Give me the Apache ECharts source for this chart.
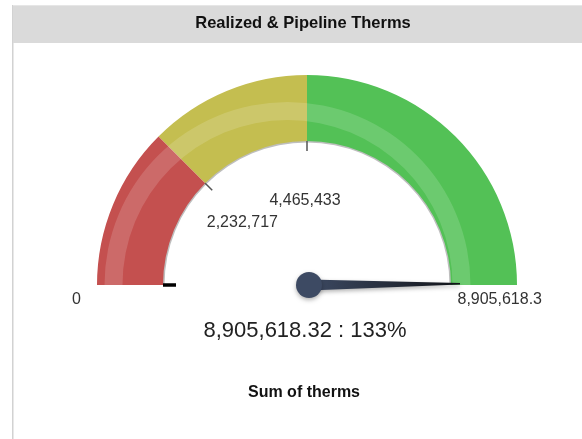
<!DOCTYPE html>
<html>
<head>
<meta charset="utf-8">
<script src="https://cdn.jsdelivr.net/npm/echarts@6/dist/echarts.min.js"></script>
<style>
html,body{margin:0;padding:0;background:#fff;}
#chart{width:582px;height:439px;}
</style>
</head>
<body>
<div id="chart"></div>
<script>
// ---- data ----
const chartTitle = 'Realized & Pipeline Therms';
const measureName = 'Sum of therms';
const scaleMax = 8930866;               // gauge scale maximum (4 x 2,232,716.5)
const tickValues = [0, 2232717, 4465433];
const tickLabels = ['0', '2,232,717', '4,465,433'];
const endLabel = '8,905,618.3';
const gaugeValue = 8905618.32;
const percentLabel = '133%';
const bandLimits = [2232717, 4465433, 8930866];
const bandColors = ['#C4504F', '#C4BE50', '#53C156'];

// ---- helpers ----
const FONT = 'Liberation Sans, Arial, Helvetica, sans-serif';
const CX = 307, CY = 285, R = 210, W = 66;
const angleOf = v => 180 - 180 * v / scaleMax;
const bandStops = bandLimits.map((v, i) => [v / scaleMax, bandColors[i]]);
const quarter = scaleMax / 4;

function hidden() {
  return {
    type: 'gauge', startAngle: 180, endAngle: 0, min: 0, max: scaleMax,
    splitNumber: 4,
    axisLine: { show: false, lineStyle: { width: W } },
    axisTick: { show: false },
    splitLine: { show: false, length: 0, distance: 0 },
    axisLabel: { show: false },
    pointer: { show: false },
    anchor: { show: false },
    title: { show: false },
    detail: { show: false },
    data: [],
    silent: true
  };
}

function labelSeries(center, radius, indices, texts) {
  const s = hidden();
  s.center = center;
  s.radius = radius;
  s.axisLabel = {
    show: true, distance: 0, fontSize: 16, color: '#333', fontFamily: FONT,
    formatter: v => {
      const idx = Math.round(v / quarter);
      const k = indices.indexOf(idx);
      return k >= 0 ? texts[k] : '';
    }
  };
  return s;
}

const series = [];

// inner edge shadow
{
  const s = hidden();
  s.center = [CX, CY]; s.radius = R - W + 1;
  s.axisLine = { show: true, lineStyle: { width: 2.5, color: [[1, 'rgba(70,70,70,0.35)']] } };
  series.push(s);
}
// colour bands
{
  const s = hidden();
  s.center = [CX, CY]; s.radius = R;
  s.axisLine = { show: true, lineStyle: { width: W, color: bandStops } };
  series.push(s);
}
// gloss stripe
{
  const s = hidden();
  s.center = [CX - 19.5, CY]; s.radius = 183;
  s.axisLine = { show: true, lineStyle: { width: 18, color: [[1, 'rgba(255,255,255,0.15)']] } };
  series.push(s);
}
// ticks at 0, 2,232,717, 4,465,433
{
  const s = hidden();
  s.center = [CX, CY]; s.radius = R;
  s.startAngle = angleOf(tickValues[0]);
  s.endAngle = angleOf(tickValues[2]);
  s.min = tickValues[0]; s.max = tickValues[2];
  s.splitNumber = tickValues.length - 1;
  s.axisLine = { show: true, lineStyle: { width: W, color: [[1, 'rgba(0,0,0,0)']] } };
  s.splitLine = { show: true, length: 10, distance: 0, lineStyle: { color: '#555', width: 1.5 } };
  series.push(s);
}
// bold zero tick
{
  const s = hidden();
  s.center = [CX, CY]; s.radius = R;
  s.startAngle = angleOf(tickValues[0]);
  s.endAngle = angleOf(tickValues[0]) - 0.01;
  s.splitNumber = 1;
  s.axisLine = { show: true, lineStyle: { width: W, color: [[1, 'rgba(0,0,0,0)']] } };
  s.splitLine = { show: true, length: 13, distance: 0, lineStyle: { color: '#000', width: 3 } };
  series.push(s);
}
// tick labels
series.push(labelSeries([CX, CY + 15], 235, [0, 4], [tickLabels[0], endLabel]));
series.push(labelSeries([CX - 38, CY], 88, [1], [tickLabels[1]]));
series.push(labelSeries([CX - 2, CY], 92, [2], [tickLabels[2]]));

// pointer + value
{
  const s = hidden();
  s.center = [CX + 2, CY]; s.radius = R;
  s.pointer = {
    show: true, length: 151, width: 11,
    icon: 'path://M4.3,0 L5.7,0 L10,100 L0,100 Z',
    keepAspect: false,
    itemStyle: {
      color: { type: 'linear', x: 0, y: 0, x2: 0, y2: 1,
        colorStops: [{ offset: 0, color: '#111318' }, { offset: 1, color: '#3D4A63' }] },
      shadowBlur: 4, shadowColor: 'rgba(0,0,0,0.3)', shadowOffsetY: 2
    }
  };
  s.anchor = { show: true, showAbove: true, size: 26,
    itemStyle: { color: '#3D4A63', shadowBlur: 4, shadowColor: 'rgba(0,0,0,0.3)', shadowOffsetY: 2 } };
  s.detail = {
    show: true, offsetCenter: [-4, 46], fontSize: 22, color: '#222', fontFamily: FONT,
    fontWeight: 'normal', valueAnimation: false,
    formatter: v => v.toLocaleString('en-US', { minimumFractionDigits: 2, maximumFractionDigits: 2 }) + ' : ' + percentLabel
  };
  s.data = [{ value: gaugeValue }];
  series.push(s);
}

const chart = echarts.init(document.getElementById('chart'), null, { renderer: 'canvas' });
chart.setOption({
  animation: false,
  backgroundColor: '#fff',
  graphic: [
    { type: 'rect', shape: { x: 12, y: 5, width: 1.5, height: 434 }, style: { fill: '#d2d2d2' }, z: -10 },
    { type: 'rect', shape: { x: 13, y: 5, width: 569, height: 38 }, style: { fill: '#dadada' }, z: -10 },
    { type: 'rect', shape: { x: 13, y: 5, width: 569, height: 1 }, style: { fill: '#e6e6e6' }, z: -9 }
  ],
  title: [
    { text: chartTitle, left: 303, top: 15, textAlign: 'center', padding: 0,
      textStyle: { fontSize: 16.5, fontWeight: 'bold', color: '#111', fontFamily: FONT } },
    { text: measureName, left: 304, top: 385, textAlign: 'center', padding: 0,
      textStyle: { fontSize: 16, fontWeight: 'bold', color: '#111', fontFamily: FONT } }
  ],
  series: series
});
</script>
</body>
</html>
